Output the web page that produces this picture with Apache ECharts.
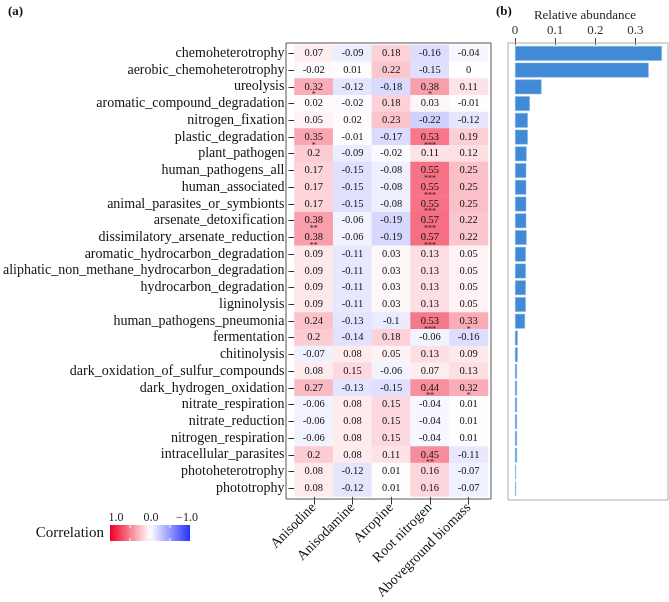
<!DOCTYPE html>
<html>
<head>
<meta charset="utf-8">
<script src="https://cdn.jsdelivr.net/npm/echarts@6/dist/echarts.min.js"></script>
<style>
  html, body { margin: 0; padding: 0; background: #fff; }
  #main { width: 669px; height: 602px; }
</style>
</head>
<body>
<div id="main"></div>
<script>
// 功能分类（行）
const functions = [
  'chemoheterotrophy', 'aerobic_chemoheterotrophy', 'ureolysis', 'aromatic_compound_degradation',
  'nitrogen_fixation', 'plastic_degradation', 'plant_pathogen', 'human_pathogens_all',
  'human_associated', 'animal_parasites_or_symbionts', 'arsenate_detoxification',
  'dissimilatory_arsenate_reduction', 'aromatic_hydrocarbon_degradation',
  'aliphatic_non_methane_hydrocarbon_degradation', 'hydrocarbon_degradation', 'ligninolysis',
  'human_pathogens_pneumonia', 'fermentation', 'chitinolysis', 'dark_oxidation_of_sulfur_compounds',
  'dark_hydrogen_oxidation', 'nitrate_respiration', 'nitrate_reduction', 'nitrogen_respiration',
  'intracellular_parasites', 'photoheterotrophy', 'phototrophy'
];
// 环境因子（列）
const factors = ['Anisodine', 'Anisodamine', 'Atropine', 'Root nitrogen', 'Aboveground biomass'];

// 相关系数
const anisodine   = [0.07, -0.02, 0.32, 0.02, 0.05, 0.35, 0.2, 0.17, 0.17, 0.17, 0.38, 0.38, 0.09, 0.09, 0.09, 0.09, 0.24, 0.2, -0.07, 0.08, 0.27, -0.06, -0.06, -0.06, 0.2, 0.08, 0.08];
const anisodamine = [-0.09, 0.01, -0.12, -0.02, 0.02, -0.01, -0.09, -0.15, -0.15, -0.15, -0.06, -0.06, -0.11, -0.11, -0.11, -0.11, -0.13, -0.14, 0.08, 0.15, -0.13, 0.08, 0.08, 0.08, 0.08, -0.12, -0.12];
const atropine    = [0.18, 0.22, -0.18, 0.18, 0.23, -0.17, -0.02, -0.08, -0.08, -0.08, -0.19, -0.19, 0.03, 0.03, 0.03, 0.03, -0.1, 0.18, 0.05, -0.06, -0.15, 0.15, 0.15, 0.15, 0.11, 0.01, 0.01];
const rootNitrogen = [-0.16, -0.15, 0.38, 0.03, -0.22, 0.53, 0.11, 0.55, 0.55, 0.55, 0.57, 0.57, 0.13, 0.13, 0.13, 0.13, 0.53, -0.06, 0.13, 0.07, 0.44, -0.04, -0.04, -0.04, 0.45, 0.16, 0.16];
const abovegroundBiomass = [-0.04, 0, 0.11, -0.01, -0.12, 0.19, 0.12, 0.25, 0.25, 0.25, 0.22, 0.22, 0.05, 0.05, 0.05, 0.05, 0.33, -0.16, 0.09, 0.13, 0.32, 0.01, 0.01, 0.01, -0.11, -0.07, -0.07];

// 显著性标记（行号 -> 星号）
const starsAnisodine = { 2: '*', 5: '*', 10: '**', 11: '**' };
const starsAnisodamine = {};
const starsAtropine = {};
const starsRootNitrogen = { 2: '*', 5: '***', 7: '***', 8: '***', 9: '***', 10: '***', 11: '***', 16: '***', 20: '**', 24: '**' };
const starsAboveground = { 16: '*', 20: '*' };

// 相对丰度
const abundance = [0.366, 0.333, 0.066, 0.037, 0.032, 0.032, 0.029, 0.028, 0.028, 0.028, 0.028, 0.029, 0.027, 0.027, 0.027, 0.027, 0.025, 0.0067, 0.0067, 0.005, 0.005, 0.005, 0.005, 0.005, 0.005, 0.0025, 0.0025];
const abundanceTicks = [0, 0.1, 0.2, 0.3];
const legendTicks = ['1.0', '0.0', '\u22121.0'];

const columns = [anisodine, anisodamine, atropine, rootNitrogen, abovegroundBiomass];
const starCols = [starsAnisodine, starsAnisodamine, starsAtropine, starsRootNitrogen, starsAboveground];

const RED = '#ee0022', BLUE = '#2832fa';
const FONT = 'Liberation Serif';

let heatData = [];
let starData = [];
columns.forEach(function (col, x) {
  col.forEach(function (v, y) {
    heatData.push([x, y, v]);
    if (starCols[x][y]) starData.push([x, y, starCols[x][y]]);
  });
});

let myChart = echarts.init(document.getElementById('main'));

let option = {
  backgroundColor: '#fff',
  animation: false,
  textStyle: { fontFamily: FONT },
  grid: [
    { left: 288, top: 45, width: 200, height: 452 },
    { left: 515, top: 45, width: 152.5, height: 452 }
  ],
  xAxis: [{
    type: 'category',
    gridIndex: 0,
    data: factors,
    axisLine: { show: false },
    axisTick: { show: true, alignWithLabel: true, length: 8, lineStyle: { color: '#333' } },
    axisLabel: { rotate: 45, margin: 9, fontSize: 14, color: '#111', fontFamily: FONT, interval: 0 },
    splitLine: { show: false }
  }, {
    type: 'value',
    gridIndex: 1,
    position: 'top',
    min: 0,
    max: 0.38,
    interval: 0.1,
    axisLine: { show: false },
    axisTick: { show: true, length: 7, customValues: abundanceTicks, lineStyle: { color: '#444' } },
    axisLabel: {
      margin: 8, fontSize: 13, color: '#333', fontFamily: FONT,
      customValues: abundanceTicks,
      formatter: function (v) { return String(Math.round(v * 10) / 10); }
    },
    splitLine: { show: false }
  }],
  yAxis: [{
    type: 'category',
    gridIndex: 0,
    data: functions,
    inverse: true,
    axisLine: { show: false },
    axisTick: { show: true, alignWithLabel: true, length: 6, lineStyle: { color: '#333' } },
    axisLabel: { margin: 10, fontSize: 14, color: '#111', fontFamily: FONT, interval: 0 },
    splitLine: { show: false }
  }, {
    type: 'category',
    gridIndex: 1,
    data: functions,
    inverse: true,
    axisLine: { show: false },
    axisTick: { show: false },
    axisLabel: { show: false },
    splitLine: { show: false }
  }],
  visualMap: {
    show: false,
    seriesIndex: 0,
    min: -1,
    max: 1,
    inRange: { color: [BLUE, '#ffffff', RED] }
  },
  series: [{
    type: 'heatmap',
    xAxisIndex: 0,
    yAxisIndex: 0,
    data: heatData,
    emphasis: { disabled: true },
    label: {
      show: true,
      fontSize: 10.5,
      fontFamily: FONT,
      color: '#111',
      formatter: function (p) { return String(p.value[2]); }
    }
  }, {
    type: 'scatter',
    xAxisIndex: 0,
    yAxisIndex: 0,
    data: starData,
    symbolSize: 0,
    silent: true,
    z: 5,
    label: {
      show: true,
      position: 'inside',
      offset: [0, 8.5],
      fontSize: 8,
      fontFamily: FONT,
      color: '#000',
      formatter: function (p) { return p.value[2]; }
    }
  }, {
    type: 'bar',
    xAxisIndex: 1,
    yAxisIndex: 1,
    data: abundance,
    barCategoryGap: '12%',
    itemStyle: { color: '#418ad6', borderColor: '#8ab6e6', borderWidth: 0.5 },
    emphasis: { disabled: true }
  }],
  graphic: [
    // 面板边框
    { type: 'rect', shape: { x: 286, y: 43, width: 205, height: 456 }, style: { fill: 'none', stroke: '#555', lineWidth: 1 }, z: 10 },
    { type: 'rect', shape: { x: 508, y: 43, width: 160, height: 457 }, style: { fill: 'none', stroke: '#aaa', lineWidth: 1 }, z: 10 },
    // 标题
    { type: 'text', left: 8, top: 5, style: { text: '(a)', font: 'bold 13px ' + FONT, fill: '#111' } },
    { type: 'text', left: 496, top: 5, style: { text: '(b)', font: 'bold 13px ' + FONT, fill: '#111' } },
    { type: 'text', x: 585, y: 16, style: { text: 'Relative abundance', font: '13px ' + FONT, fill: '#222', align: 'center', verticalAlign: 'middle' } },
    // 颜色图例
    { type: 'text', x: 104, y: 533, style: { text: 'Correlation', font: '15px ' + FONT, fill: '#111', align: 'right', verticalAlign: 'middle' } },
    {
      type: 'rect', shape: { x: 110, y: 525, width: 80, height: 16 },
      style: {
        fill: new echarts.graphic.LinearGradient(0, 0, 1, 0, [
          { offset: 0, color: RED }, { offset: 0.5, color: '#ffffff' }, { offset: 1, color: BLUE }
        ])
      }
    },
    { type: 'line', shape: { x1: 130, y1: 525, x2: 130, y2: 528 }, style: { stroke: '#fff', lineWidth: 1 } },
    { type: 'line', shape: { x1: 130, y1: 538, x2: 130, y2: 541 }, style: { stroke: '#fff', lineWidth: 1 } },
    { type: 'line', shape: { x1: 150, y1: 525, x2: 150, y2: 528 }, style: { stroke: '#ddd', lineWidth: 1 } },
    { type: 'line', shape: { x1: 150, y1: 538, x2: 150, y2: 541 }, style: { stroke: '#ddd', lineWidth: 1 } },
    { type: 'line', shape: { x1: 170, y1: 525, x2: 170, y2: 528 }, style: { stroke: '#fff', lineWidth: 1 } },
    { type: 'line', shape: { x1: 170, y1: 538, x2: 170, y2: 541 }, style: { stroke: '#fff', lineWidth: 1 } },
    { type: 'text', x: 116, y: 518, style: { text: legendTicks[0], font: '12px ' + FONT, fill: '#222', align: 'center', verticalAlign: 'middle' } },
    { type: 'text', x: 151, y: 518, style: { text: legendTicks[1], font: '12px ' + FONT, fill: '#222', align: 'center', verticalAlign: 'middle' } },
    { type: 'text', x: 187, y: 518, style: { text: legendTicks[2], font: '12px ' + FONT, fill: '#222', align: 'center', verticalAlign: 'middle' } }
  ]
};

myChart.setOption(option);
</script>
</body>
</html>
